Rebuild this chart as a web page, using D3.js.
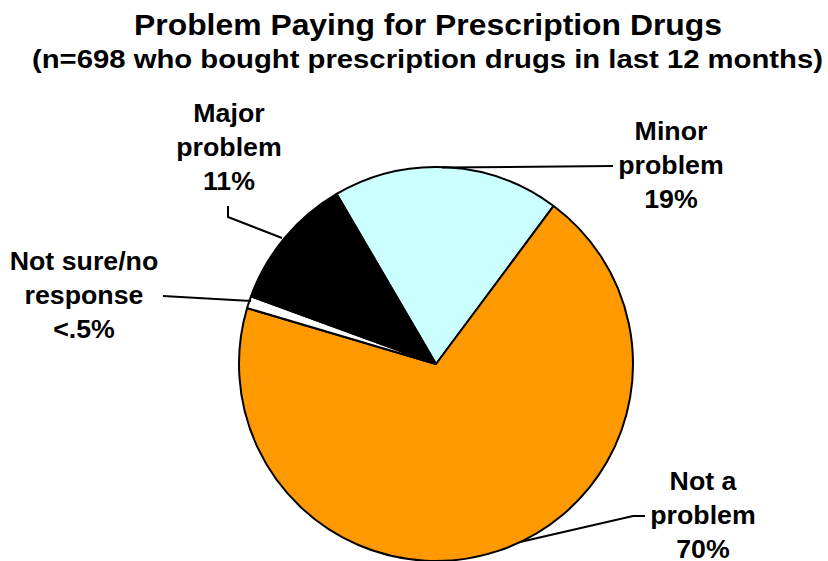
<!DOCTYPE html>
<html><head><meta charset="utf-8">
<script src="https://cdn.jsdelivr.net/npm/d3@7"></script>
<style>body{margin:0;background:#fff}svg{display:block}text{font-family:Arial,"Liberation Sans",sans-serif;font-weight:bold;fill:#000}</style>
</head><body>
<svg id="c" width="828" height="561"></svg>
<script>
const categories = ["Minor problem", "Not a problem", "Not sure/no response", "Major problem"];
const values = [18.6, 69.4, 1.0, 11.0];
const valueLabels = ["19%", "70%", "<.5%", "11%"];
const colors = ["#CCFFFF", "#FF9900", "#FFFFFF", "#000000"];

const svg = d3.select("#c");
const cx = 436, cy = 364, r = 197;

svg.append("text").attr("x", 428).attr("y", 35).attr("text-anchor", "middle")
  .attr("textLength", 588).attr("lengthAdjust", "spacingAndGlyphs")
  .style("font-size", "30px").text("Problem Paying for Prescription Drugs");
svg.append("text").attr("x", 427.5).attr("y", 68).attr("text-anchor", "middle")
  .attr("textLength", 791).attr("lengthAdjust", "spacingAndGlyphs")
  .style("font-size", "25px").text("(n=698 who bought prescription drugs in last 12 months)");

const startA = -30.3 * Math.PI / 180;
const pie = d3.pie().sort(null).value(d => d).startAngle(startA).endAngle(startA + 2*Math.PI);
const arcs = pie(values);
const arc = d3.arc().innerRadius(0).outerRadius(r);
const g = svg.append("g").attr("transform", `translate(${cx},${cy})`);
g.selectAll("path").data(arcs).join("path")
  .attr("d", arc).attr("fill", (d, i) => colors[i])
  .attr("stroke", "#000").attr("stroke-width", 2).attr("stroke-linejoin", "round");

// label layout (positions only)
const layout = [
  {x: 671, y: 140, line: [[613,166],[cx+6, cy - r + 0.5]]},
  {x: 703, y: 490, line: [[645,516],[633,516],[cx + 84, cy + r - 19]]},
  {x: 84,  y: 270, line: [[163,296],[cx - r + 12, cy - 63]]},
  {x: 229, y: 122, line: [[228,206],[228,217],[cx - 154, cy - 126]]}
];
function splitName(n){
  if (n === "Not sure/no response") return ["Not sure/no", "response"];
  if (n === "Not a problem") return ["Not a", "problem"];
  const p = n.split(" "); return [p[0], p.slice(1).join(" ")];
}
const sx = 1.07;
categories.forEach((c, i) => {
  const L = layout[i];
  svg.append("path").attr("d", d3.line()(L.line)).attr("fill", "none")
    .attr("stroke", "#000").attr("stroke-width", 2);
  const t = svg.append("text").attr("text-anchor", "middle").style("font-size", "25px")
    .attr("transform", `translate(${L.x},${L.y}) scale(${sx},1)`);
  const lines = splitName(c).concat([valueLabels[i]]);
  lines.forEach((s, k) => t.append("tspan").attr("x", 0).attr("y", k*34).text(s));
});
</script>
</body></html>
